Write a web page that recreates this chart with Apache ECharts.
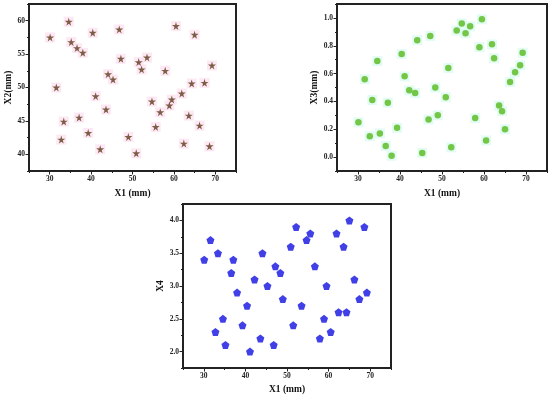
<!DOCTYPE html>
<html>
<head>
<meta charset="utf-8">
<script src="https://cdn.jsdelivr.net/npm/echarts@6/dist/echarts.min.js"></script>
<style>html,body{margin:0;padding:0;background:#fff}#c{width:550px;height:396px}</style>
</head>
<body>
<div id="c"></div>
<script>
var x1 = [30.1,31.6,32.8,33.4,34.6,35.2,36.6,37.1,38.0,39.3,40.4,41.1,42.2,43.6,44.1,45.3,46.8,47.2,48.4,49.0,50.9,51.5,52.2,53.5,54.7,55.6,56.7,57.9,58.9,59.5,60.5,61.9,62.4,63.6,64.3,65.0,66.2,67.4,68.6,69.2];
var x2 = [57.5,50.0,42.2,44.9,59.85,56.8,55.9,45.5,55.2,43.2,58.2,48.7,40.75,46.7,52.0,51.2,58.7,54.3,null,42.6,40.15,53.8,52.7,54.5,47.9,44.1,46.3,52.5,47.3,48.2,59.2,49.1,41.6,45.8,50.6,57.9,44.3,50.7,41.2,53.3];
var x3 = [0.25,0.56,0.15,0.41,0.69,0.17,0.08,0.39,0.01,0.21,0.74,0.58,0.48,0.46,0.84,0.03,0.27,0.87,0.50,0.30,0.43,0.64,0.07,0.91,0.96,0.89,0.94,0.28,0.79,0.99,0.12,0.81,0.71,0.37,0.33,0.20,0.54,0.61,0.66,0.75];
var x4 = [3.4,3.7,2.3,3.5,2.5,2.1,3.2,3.4,2.9,2.4,2.7,2.0,3.1,2.2,3.5,3.0,2.1,3.3,3.2,2.8,3.6,2.4,3.9,2.7,3.7,3.8,3.3,2.2,2.5,3.0,2.3,3.8,2.6,3.6,2.6,4.0,3.1,2.8,3.9,2.9];

var xMajor = [30,40,50,60,70], xMinor = [25,35,45,55,65,75];
var y2Major = [40,45,50,55,60], y2Minor = [37.5,42.5,47.5,52.5,57.5,62.5];
var y3Major = [0.0,0.2,0.4,0.6,0.8,1.0], y3Minor = [-0.1,0.1,0.3,0.5,0.7,0.9,1.1];
var y4Major = [2.0,2.5,3.0,3.5,4.0], y4Minor = [1.75,2.25,2.75,3.25,3.75,4.25];

function pairs(xs, ys){ var o=[]; for(var i=0;i<xs.length;i++){ if(ys[i]!==null) o.push([xs[i],ys[i]]);} return o; }

var FONT = 'Liberation Serif';
var STAR = 'path://M50,0 L61,35 L98,35 L68,57 L79,91 L50,70 L21,91 L32,57 L2,35 L39,35 Z';
var PENT = 'path://M50,0 L98,35 L79,91 L21,91 L2,35 Z';

function mainAxis(type, grid, min, max, major, name, gap, dec, pos){
  return {
    type:'value', gridIndex:grid, min:min, max:max, position:pos,
    name:name, nameLocation:'middle', nameGap:gap,
    nameTextStyle:{fontFamily:FONT, fontWeight:'bold', fontSize:9.5, color:'#111'},
    splitLine:{show:false},
    axisLine:{show:true, onZero:false, lineStyle:{color:'#222', width:2}},
    axisTick:{show:true, length:3.5, customValues:major, lineStyle:{color:'#222', width:1}},
    axisLabel:{show:true, customValues:major, fontFamily:FONT, fontWeight:'bold', fontSize:7.5, color:'#222', margin:4,
      formatter:function(v){ return dec ? v.toFixed(dec) : String(v); }}
  };
}
function minorAxis(grid, min, max, minor, pos){
  return {
    type:'value', gridIndex:grid, min:min, max:max, position:pos,
    splitLine:{show:false},
    axisLine:{show:false, onZero:false},
    axisTick:{show:true, length:2, customValues:minor, lineStyle:{color:'#222', width:1}},
    axisLabel:{show:false}
  };
}

var option = {
  animation:false,
  backgroundColor:'#fff',
  grid:[
    {left:29, top:4, width:207, height:167, show:true, borderColor:'#222', borderWidth:2},
    {left:337, top:4, width:210, height:167, show:true, borderColor:'#222', borderWidth:2},
    {left:183, top:204, width:208, height:166, show:true, borderColor:'#222', borderWidth:2}
  ],
  xAxis:[
    mainAxis('x',0,25,75,xMajor,'X1 (mm)',18,0,'bottom'),
    mainAxis('x',1,25,75,xMajor,'X1 (mm)',18,0,'bottom'),
    mainAxis('x',2,25,75,xMajor,'X1 (mm)',17,0,'bottom'),
    minorAxis(0,25,75,xMinor,'bottom'),
    minorAxis(1,25,75,xMinor,'bottom'),
    minorAxis(2,25,75,xMinor,'bottom')
  ],
  yAxis:[
    mainAxis('y',0,37.5,62.5,y2Major,'X2(mm)',15,0,'left'),
    mainAxis('y',1,-0.1,1.1,y3Major,'X3(mm)',14,1,'left'),
    mainAxis('y',2,1.75,4.25,y4Major,'X4',17,1,'left'),
    minorAxis(0,37.5,62.5,y2Minor,'left'),
    minorAxis(1,-0.1,1.1,y3Minor,'left'),
    minorAxis(2,1.75,4.25,y4Minor,'left')
  ],
  series:[
    {type:'scatter', xAxisIndex:0, yAxisIndex:0, data:pairs(x1,x2), symbol:'rect', symbolSize:10,
     itemStyle:{color:'#fde2f1'}, silent:true, z:1},
    {type:'scatter', xAxisIndex:0, yAxisIndex:0, data:pairs(x1,x2), symbol:STAR, symbolSize:8,
     itemStyle:{color:'#5e3a1c'}, z:2},
    {type:'scatter', xAxisIndex:1, yAxisIndex:1, data:pairs(x1,x3), symbol:'rect', symbolSize:10,
     itemStyle:{color:'#dcfbf0'}, silent:true, z:1},
    {type:'scatter', xAxisIndex:1, yAxisIndex:1, data:pairs(x1,x3), symbol:'circle', symbolSize:6.5,
     itemStyle:{color:'#58b81c'}, z:2},
    {type:'scatter', xAxisIndex:2, yAxisIndex:2, data:pairs(x1,x4), symbol:PENT, symbolSize:8,
     itemStyle:{color:'#1010e0'}, z:2}
  ]
};
var chart = echarts.init(document.getElementById('c'), null, {renderer:'canvas'});
chart.setOption(option);
</script>
</body>
</html>
